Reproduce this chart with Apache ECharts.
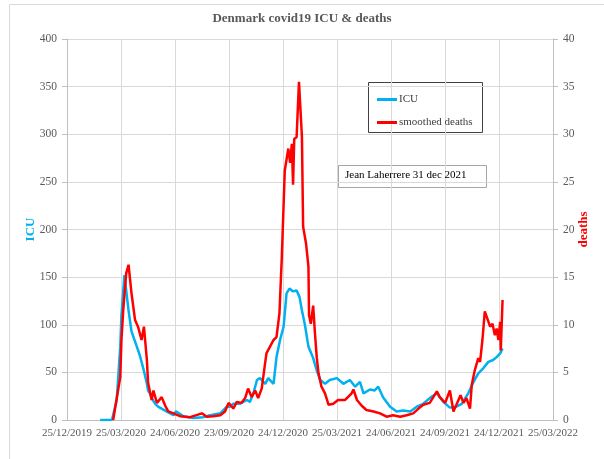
<!DOCTYPE html>
<html>
<head>
<meta charset="utf-8">
<script src="https://cdn.jsdelivr.net/npm/echarts@6/dist/echarts.min.js"></script>
<style>
  html, body { margin: 0; padding: 0; background: #fff; }
  #chart { width: 604px; height: 459px; }
</style>
</head>
<body>
<div id="chart"></div>
<script>
// x axis: days since 25/12/2019, one tick every 91.25 days
const tickLabels = ['25/12/2019', '25/03/2020', '24/06/2020', '23/09/2020', '24/12/2020',
  '25/03/2021', '24/06/2021', '24/09/2021', '24/12/2021', '25/03/2022']
const tickStep = 91.25

// ICU (left axis)
const icuDays = [56, 76, 84, 90, 92, 97, 104, 109, 118, 123, 129, 135, 137, 140, 145, 149, 154, 157,
  168, 180, 184, 197, 213, 230, 242, 259, 270, 275, 281, 292, 304, 309, 315, 321, 326, 335, 340,
  349, 354, 360, 366, 371, 376, 382, 388, 393, 397, 402, 408, 416, 422, 428, 436, 444, 456, 467,
  478, 487, 495, 501, 512, 520, 526, 534, 546, 557, 568, 580, 591, 602, 613, 625, 636, 647, 658,
  667, 678, 687, 695, 703, 712, 720, 726, 732, 736]
const icuValues = [0, 0, 21, 77, 110, 152, 115, 93, 77, 68, 54, 38, 31, 28, 21, 17, 14, 14,
  9, 5, 9, 4, 2, 3, 5, 7, 14, 14, 17, 17, 21, 19, 28, 42, 44, 38, 44,
  38, 66, 84, 98, 133, 138, 135, 136, 129, 115, 100, 77, 65, 52, 42, 38, 42, 44, 38,
  42, 35, 40, 28, 32, 31, 35, 24, 14, 9, 10, 9, 14, 17, 23, 28, 19, 13, 14,
  17, 28, 40, 49, 54, 61, 63, 66, 70, 75]

// smoothed deaths (right axis)
const deathDays = [78, 81, 90, 92, 95, 100, 104, 109, 115, 120, 126, 130, 135, 137, 143, 146, 152,
  160, 166, 171, 180, 191, 208, 228, 236, 247, 259, 267, 273, 281, 287, 295, 301, 306, 312, 318,
  323, 329, 337, 343, 349, 354, 359, 363, 368, 374, 377, 380, 382, 384, 388, 392, 397, 399, 404,
  408, 409, 412, 416, 419, 422, 425, 430, 436, 442, 450, 458, 470, 481, 484, 490, 498, 506, 518,
  529, 540, 551, 563, 574, 585, 594, 602, 613, 625, 630, 639, 647, 653, 658, 665, 670, 675, 681,
  684, 689, 695, 698, 702, 706, 710, 715, 719, 723, 726, 729, 732, 733, 736]
const deathValues = [0, 0, 4.5, 8.4, 11.5, 15.4, 16.3, 13.3, 10.5, 9.8, 8.4, 9.8, 6.3, 3.9, 2.1, 3.1, 1.8,
  2.4, 1.5, 0.9, 0.7, 0.4, 0.3, 0.7, 0.35, 0.4, 0.5, 0.9, 1.8, 1.2, 1.9, 1.8, 2.3, 3.3, 2.4, 3.1,
  2.3, 3.3, 7, 7.7, 8.4, 8.7, 11.2, 17.1, 26.2, 28.5, 27, 29, 24.7, 29.5, 29.7, 35.5, 29.7, 20.3, 18.5,
  16.1, 11, 10.1, 12, 9.1, 6.6, 4.9, 3.5, 2.8, 1.6, 1.7, 2.1, 2.1, 2.8, 3.2, 2.1, 1.5, 1.05, 0.9,
  0.7, 0.35, 0.5, 0.35, 0.5, 0.7, 1.2, 1.6, 1.8, 3, 2.4, 1.8, 3.1, 0.9, 1.6, 2.6, 1.8, 2.3, 1.2,
  3.7, 5.2, 6.5, 6.1, 8.4, 11.4, 10.7, 9.8, 10.1, 8.9, 9.6, 8.4, 10.3, 7.3, 12.6]

const serif = '"Liberation Serif", "DejaVu Serif", serif'
const grey = '#595959'

const chart = echarts.init(document.getElementById('chart'))
chart.setOption({
  animation: false,
  textStyle: { fontFamily: serif },
  title: {
    text: 'Denmark covid19 ICU & deaths',
    left: 'center',
    top: 7,
    textStyle: { fontFamily: serif, fontSize: 13, fontWeight: 'bold', color: grey }
  },
  grid: { left: 67, right: 51, top: 39, bottom: 39 },
  legend: {
    orient: 'vertical',
    left: 372,
    top: 89,
    itemGap: 12,
    itemWidth: 20,
    itemHeight: 3,
    icon: 'rect',
    textStyle: { fontFamily: serif, fontSize: 11, color: '#404040', padding: [0, 0, 0, -3] },
    data: ['ICU', 'smoothed deaths']
  },
  xAxis: {
    type: 'value',
    min: 0,
    max: tickStep * (tickLabels.length - 1),
    interval: tickStep,
    axisLine: { show: true, lineStyle: { color: '#bfbfbf' } },
    axisTick: { show: false },
    splitLine: { show: true, lineStyle: { color: '#d9d9d9' } },
    axisLabel: {
      color: grey, fontSize: 11, fontFamily: serif, margin: 8,
      formatter: function (v) { return tickLabels[Math.round(v / tickStep)] }
    }
  },
  yAxis: [
    {
      type: 'value',
      min: 0, max: 400, interval: 50,
      name: 'ICU',
      nameLocation: 'middle',
      nameGap: 30,
      nameMoveOverlap: false,
      nameRotate: 90,
      nameTextStyle: { color: '#00b0f0', fontWeight: 'bold', fontSize: 13, fontFamily: serif },
      axisLine: { show: true, lineStyle: { color: '#bfbfbf' } },
      axisTick: { show: true, length: 5, lineStyle: { color: '#bfbfbf' } },
      splitLine: { lineStyle: { color: '#d9d9d9' } },
      axisLabel: { color: grey, fontSize: 11.5, fontFamily: serif, margin: 10 }
    },
    {
      type: 'value',
      min: 0, max: 40, interval: 5,
      name: 'deaths',
      nameLocation: 'middle',
      nameGap: 24,
      nameMoveOverlap: false,
      nameRotate: 90,
      nameTextStyle: { color: '#ff0000', fontWeight: 'bold', fontSize: 13, fontFamily: serif },
      axisLine: { show: true, lineStyle: { color: '#bfbfbf' } },
      axisTick: { show: true, length: 5, lineStyle: { color: '#bfbfbf' } },
      splitLine: { show: false },
      axisLabel: { color: grey, fontSize: 11.5, fontFamily: serif, margin: 10 }
    }
  ],
  graphic: [
    {
      type: 'rect', silent: true, z: -10,
      shape: { x: 9.5, y: 4.5, width: 620, height: 480 },
      style: { fill: 'none', stroke: '#d9d9d9', lineWidth: 1 }
    },
    {
      type: 'rect', silent: true, z: 0,
      shape: { x: 368.5, y: 82.5, width: 114, height: 50 },
      style: { fill: '#fff', stroke: '#404040', lineWidth: 1 }
    },
    {
      type: 'rect', silent: true, z: 0,
      shape: { x: 338.5, y: 165.5, width: 148, height: 22 },
      style: { fill: '#fff', stroke: '#a6a6a6', lineWidth: 1 }
    },
    {
      type: 'text', silent: true, z: 1,
      left: 345, top: 170,
      style: { text: 'Jean Laherrere 31 dec 2021', font: '11px ' + serif, fill: '#000' }
    }
  ],
  series: [
    {
      name: 'ICU',
      type: 'line',
      yAxisIndex: 0,
      showSymbol: false,
      symbol: 'none',
      lineStyle: { width: 2.5, color: '#00b0f0' },
      itemStyle: { color: '#00b0f0' },
      data: icuDays.map((d, i) => [d, icuValues[i]])
    },
    {
      name: 'smoothed deaths',
      type: 'line',
      yAxisIndex: 1,
      showSymbol: false,
      symbol: 'none',
      lineStyle: { width: 2.5, color: '#ff0000' },
      itemStyle: { color: '#ff0000' },
      data: deathDays.map((d, i) => [d, deathValues[i]])
    }
  ]
})
</script>
</body>
</html>
